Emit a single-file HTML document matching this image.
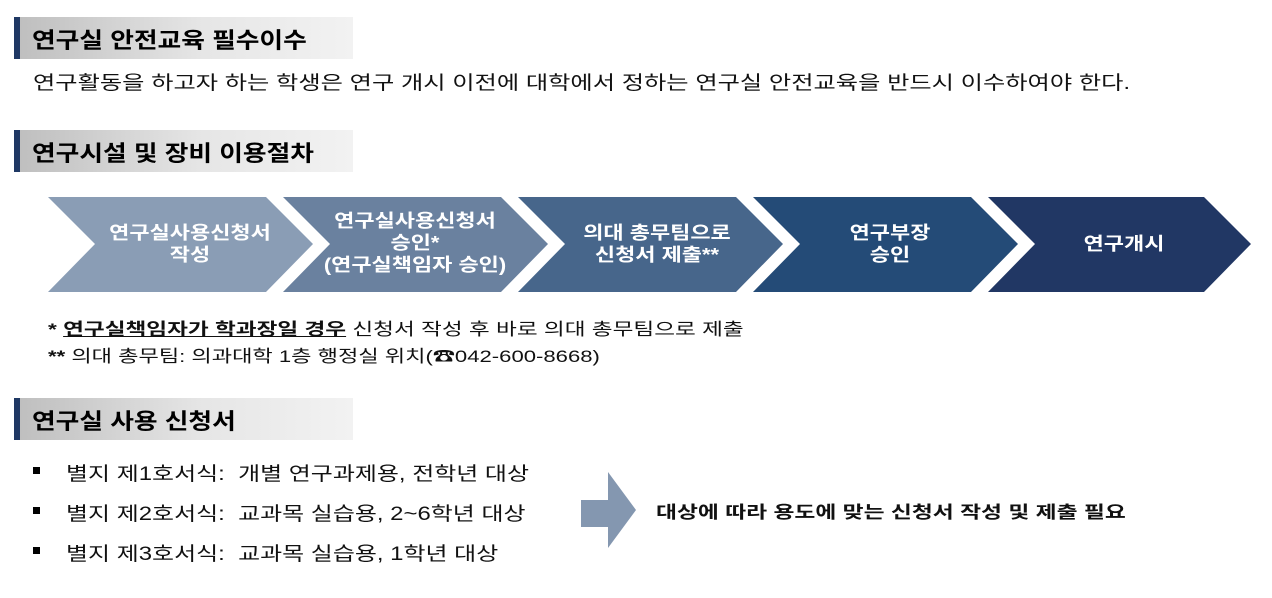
<!DOCTYPE html>
<html><head><meta charset="utf-8"><style>
body{margin:0;width:1272px;height:598px;background:#fff;position:relative;overflow:hidden;font-family:"Liberation Sans","Noto Sans CJK KR",sans-serif;color:#111}
.h{position:absolute;left:14px;width:339px;height:42px;background:linear-gradient(90deg,#bfbfbf,#e6e6e6 55%,#f2f2f2);border-left:6px solid #1f3864;box-sizing:border-box}
.h span{position:absolute;left:12px;top:6px;font-size:22px;font-weight:bold;color:#000;transform:scaleX(1.17);transform-origin:left;white-space:nowrap}
.t{position:absolute;white-space:nowrap;transform-origin:left}
.c{position:absolute;color:#fff;font-weight:bold;font-size:18px;text-align:center;line-height:22px;white-space:nowrap;transform:scaleX(1.22)}
</style></head><body>
<div class="h" style="top:17px"><span>연구실 안전교육 필수이수</span></div>
<div class="t" style="left:33px;top:68px;font-size:19px;transform:scaleX(1.275)">연구활동을 하고자 하는 학생은 연구 개시 이전에 대학에서 정하는 연구실 안전교육을 반드시 이수하여야 한다.</div>
<div class="h" style="top:130px"><span>연구시설 및 장비 이용절차</span></div>
<svg style="position:absolute;left:0;top:0" width="1272" height="598">
<polygon points="48,197 266,197 313,244 266,292 48,292 95,244" fill="#8a9db5"/>
<polygon points="283,197 501,197 548,244 501,292 283,292 330,244" fill="#6a819f"/>
<polygon points="518,197 736,197 783,244 736,292 518,292 565,244" fill="#47668b"/>
<polygon points="753,197 971,197 1018,244 971,292 753,292 800,244" fill="#244b77"/>
<polygon points="988,197 1204,197 1251,244 1204,292 988,292 1035,244" fill="#213764"/>
<polygon points="581,500 608,500 608,472 636,510 608,548 608,527 581,527" fill="#8497b0"/>
<rect x="33" y="467" width="7" height="7" fill="#000"/>
<rect x="33" y="507" width="7" height="7" fill="#000"/>
<rect x="33" y="547" width="7" height="7" fill="#000"/>
</svg>
<div class="c" style="left:85px;width:210px;top:222px">연구실사용신청서<br>작성</div>
<div class="c" style="left:310px;width:210px;top:210px">연구실사용신청서<br>승인*<br>(연구실책임자 승인)</div>
<div class="c" style="left:552px;width:210px;top:222px">의대 총무팀으로<br>신청서 제출**</div>
<div class="c" style="left:785px;width:210px;top:222px">연구부장<br>승인</div>
<div class="c" style="left:1019px;width:210px;top:233px">연구개시</div>
<div class="t" style="left:48px;top:315px;font-size:17px;transform:scaleX(1.33)"><b>* <u>연구실책임자가 학과장일 경우</u></b> 신청서 작성 후 바로 의대 총무팀으로 제출</div>
<div class="t" style="left:48px;top:342px;font-size:17px;transform:scaleX(1.30)"><b>**</b> 의대 총무팀: 의과대학 1층 행정실 위치(☎042-600-8668)</div>
<div class="h" style="top:398px"><span>연구실 사용 신청서</span></div>
<div class="t" style="left:66px;top:459px;font-size:19px;transform:scaleX(1.26)">별지 제1호서식:&nbsp; 개별 연구과제용, 전학년 대상</div>
<div class="t" style="left:66px;top:499px;font-size:19px;transform:scaleX(1.26)">별지 제2호서식:&nbsp; 교과목 실습용, 2~6학년 대상</div>
<div class="t" style="left:66px;top:539px;font-size:19px;transform:scaleX(1.26)">별지 제3호서식:&nbsp; 교과목 실습용, 1학년 대상</div>
<div class="t" style="left:656px;top:498px;font-size:17px;font-weight:bold;transform:scaleX(1.34)">대상에 따라 용도에 맞는 신청서 작성 및 제출 필요</div>
</body></html>
